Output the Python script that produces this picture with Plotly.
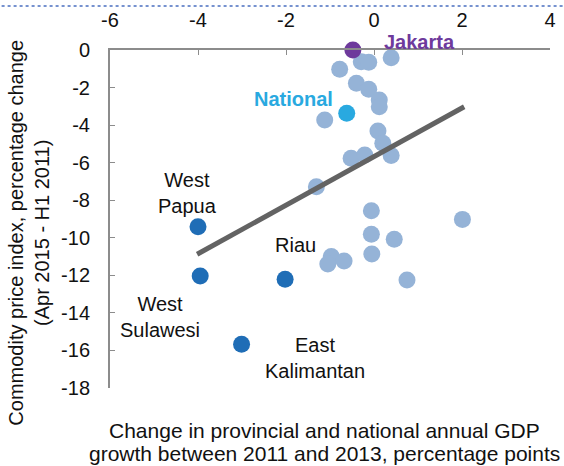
import plotly.graph_objects as go

# Provinces (light blue)
prov_x = [0.39, -0.78, -0.29, -0.12, -0.40, -0.12, 0.12, 0.12, -1.12, 0.09, 0.20, 0.39,
          -0.52, -0.21, -1.31, -0.06, 2.01, -0.06, 0.46, -0.05, -0.97, -1.05, -0.68, 0.75]
prov_y = [-0.41, -1.03, -0.62, -0.65, -1.77, -2.09, -2.66, -3.02, -3.73, -4.31, -4.97, -5.62,
          -5.77, -5.59, -7.28, -8.56, -9.02, -9.81, -10.08, -10.86, -11.0, -11.4, -11.24, -12.25]

# Highlighted resource provinces (dark blue)
res_names = ["West<br>Papua", "West<br>Sulawesi", "Riau", "East<br>Kalimantan"]
res_x = [-4.0, -3.95, -2.02, -3.01]
res_y = [-9.41, -12.03, -12.21, -15.67]

jakarta_x = [-0.48]
jakarta_y = [0.0]
national_x = [-0.62]
national_y = [-3.37]

trend_x = [-4.02, 2.05]
trend_y = [-10.88, -3.02]

x_ticks = [-6, -4, -2, 0, 2, 4]
x_ticktext = ["-6", "-4", "-2", "0", "2", "4"]
y_ticks = [0, -2, -4, -6, -8, -10, -12, -14, -16, -18]
y_ticktext = ["0", "-2", "-4", "-6", "-8", "-10", "-12", "-14", "-16", "-18"]

x_title_lines = ["Change in provincial and national annual GDP",
                 "growth between 2011 and 2013, percentage points"]
y_title = "Commodity price index, percentage change<br>(Apr 2015 - H1 2011)"

FONT = "Liberation Sans, Arial, sans-serif"
FS = 20
LIGHT = "#95B3D7"
DARK = "#1F6DB6"
PURPLE = "#6E3A9C"
NATC = "#29A9E0"
TXT = "#111111"

fig = go.Figure()
fig.add_trace(go.Scatter(x=prov_x, y=prov_y, mode="markers",
                         marker=dict(size=17, color=LIGHT), cliponaxis=False, showlegend=False))
fig.add_trace(go.Scatter(x=trend_x, y=trend_y, mode="lines",
                         line=dict(color="#636363", width=5), showlegend=False))
fig.add_trace(go.Scatter(x=res_x, y=res_y, mode="markers",
                         marker=dict(size=17, color=DARK), cliponaxis=False, showlegend=False))
fig.add_trace(go.Scatter(x=national_x, y=national_y, mode="markers",
                         marker=dict(size=17, color=NATC), cliponaxis=False, showlegend=False))
fig.add_trace(go.Scatter(x=jakarta_x, y=jakarta_y, mode="markers",
                         marker=dict(size=17, color=PURPLE), cliponaxis=False, showlegend=False))

ann = []
# Point labels (offsets in pixels relative to the points)
label_offsets = [(-11, 34), (-40, -41), (10, 34), (73, -14)]
for name, x, y, (ax, ay) in zip(res_names, res_x, res_y, label_offsets):
    ann.append(dict(x=x, y=y, text=name, showarrow=False, xshift=ax, yshift=ay,
                    font=dict(family=FONT, size=FS, color=TXT), align="center"))
ann.append(dict(x=jakarta_x[0], y=jakarta_y[0], text="<b>Jakarta</b>", showarrow=False,
                xshift=67, yshift=8, font=dict(family=FONT, size=FS, color=PURPLE)))
ann.append(dict(x=national_x[0], y=national_y[0], text="<b>National</b>", showarrow=False,
                xshift=-53, yshift=14, font=dict(family=FONT, size=FS, color=NATC)))
# Axis titles
for i, line in enumerate(x_title_lines):
    ann.append(dict(xref="paper", yref="paper", x=0.5, y=0, yanchor="middle", showarrow=False,
                    text=line, yshift=-42 - 23 * i, xshift=-6,
                    font=dict(family=FONT, size=21, color=TXT)))
ann.append(dict(xref="paper", yref="paper", x=-0.186, y=0.46, xanchor="center", yanchor="middle",
                textangle=-90, showarrow=False, text=y_title,
                font=dict(family=FONT, size=FS, color=TXT)))

fig.update_layout(
    width=564, height=466,
    margin=dict(l=110, r=14, t=50, b=78, autoexpand=False),
    paper_bgcolor="white", plot_bgcolor="white",
    font=dict(family=FONT, size=FS, color=TXT),
    annotations=ann,
    shapes=[dict(type="line", xref="paper", yref="paper", x0=-0.26, x1=1.04, y0=1.13, y1=1.13,
                 line=dict(color="#4A6FC0", width=1.5, dash="dot"))],
    xaxis=dict(range=[-6, 4], side="top", tickvals=x_ticks, ticktext=x_ticktext,
               showline=True, linecolor="#8C8C8C", linewidth=2, ticks="inside", ticklen=5,
               tickcolor="#8C8C8C", showgrid=False, zeroline=False, ticklabelstandoff=13,
               automargin=False,
               tickfont=dict(family=FONT, size=FS, color=TXT)),
    yaxis=dict(range=[-18, 0], tickvals=y_ticks, ticktext=y_ticktext,
               showline=True, linecolor="#8C8C8C", linewidth=2, ticks="inside", ticklen=5,
               tickcolor="#8C8C8C", showgrid=False, zeroline=False, ticklabelstandoff=14,
               automargin=False,
               tickfont=dict(family=FONT, size=FS, color=TXT)),
)

fig.write_html("out.html", config={"displayModeBar": False},
               post_script="document.body.style.margin='0px';")
